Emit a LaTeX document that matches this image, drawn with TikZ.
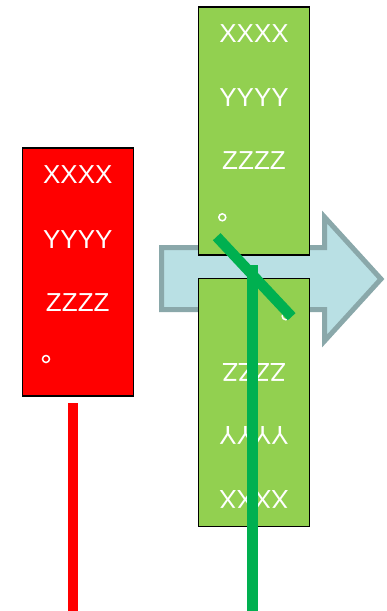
\documentclass[tikz,border=0pt]{standalone}
\usepackage{fontspec}
\setmainfont{Liberation Sans}
\usetikzlibrary{positioning}
\definecolor{boxred}{RGB}{255,0,0}
\definecolor{boxgreen}{RGB}{146,208,80}
\definecolor{bargreen}{RGB}{0,176,80}
\definecolor{arrowfill}{RGB}{185,224,228}
\definecolor{arrowdraw}{RGB}{138,168,170}

\begin{document}
\begin{tikzpicture}[x=1pt,y=-1pt]
    % Stili per i blocchi e le barre
    \tikzset{
        block/.style={
            draw=black, % Bordo
            line width=1.5pt,
            minimum width=111pt, % Larghezza del blocco
            minimum height=248pt, % Altezza del blocco
            inner sep=0pt,
            outer sep=0pt
        },
        block_text/.style={
            text=white,
            font=\fontsize{26}{26}\selectfont,
            inner sep=0pt
        },
        ring/.style={
            circle,
            draw=white,
            line width=1.5pt,
            minimum size=7pt,
            inner sep=0pt
        },
        bar/.style={
            line width=10.5pt
        }
    }
    \useasboundingbox (0,0) rectangle (386,611);

    % Freccia sullo sfondo
    \draw[arrowdraw, fill=arrowfill, line width=5pt]
        (161.5,247.5) -- (324.5,247.5) -- (324.5,217) -- (381,279)
        -- (324.5,341) -- (324.5,309.5) -- (161.5,309.5) -- cycle;

    % Blocco rosso
    \node[block, fill=boxred] (red_box) at (77.75,272) {};
    \node[block_text] (red_x) at (77.75,175) {XXXX};
    \node[block_text] (red_y) at (77.75,239.5) {YYYY};
    \node[block_text] (red_z) at (77.75,302.5) {ZZZZ};
    \node[ring] (red_dot) at (46,359) {};

    % Blocco verde in alto
    \node[block, fill=boxgreen] (g1_box) at (254,131) {};
    \node[block_text] (g1_x) at (254,34) {XXXX};
    \node[block_text] (g1_y) at (254,97.5) {YYYY};
    \node[block_text] (g1_z) at (254,161) {ZZZZ};
    \node[ring] (g1_dot) at (222.3,217.3) {};

    % Blocco verde in basso (capovolto)
    \node[block, fill=boxgreen] (g2_box) at (254,402.5) {};
    \node[block_text, rotate=180] (g2_x) at (254,499) {XXXX};
    \node[block_text, rotate=180] (g2_y) at (254,435.5) {YYYY};
    \node[block_text, rotate=180] (g2_z) at (254,372) {ZZZZ};
    \node[ring] (g2_dot) at (285.7,316.2) {};

    % Estremi delle barre
    \coordinate (red_top) at (73,403);
    \coordinate (red_end) at (73,611);
    \coordinate (green_top) at (252.5,265);
    \coordinate (green_end) at (252.5,611);
    \coordinate (cut_start) at (216.7,236.7);
    \coordinate (cut_end) at (291.7,316.7);

    % Barre
    \draw[bar, boxred] (red_top) -- (red_end);
    \draw[bar, bargreen] (green_top) -- (green_end);
    \draw[bar, bargreen] (cut_start) -- (cut_end);

\end{tikzpicture}
\end{document}
